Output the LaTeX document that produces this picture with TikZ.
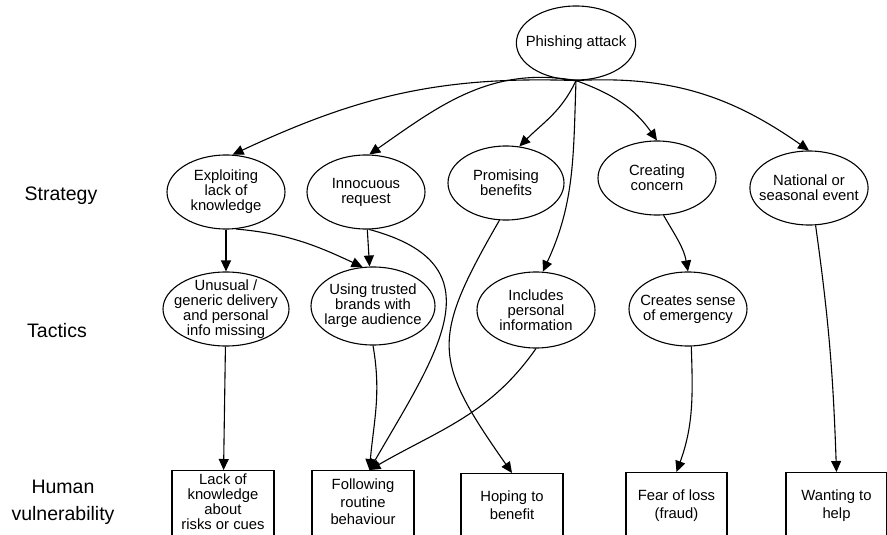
\documentclass[tikz,border=0pt]{standalone}
\usepackage{fontspec}
\setmainfont{Liberation Sans}
\usetikzlibrary{shapes.geometric,arrows.meta}

\begin{document}
\begin{tikzpicture}[x=1pt,y=1pt,
  every node/.style={font=\fontsize{14.8}{15}\selectfont},
  strat/.style={draw,ellipse,line width=1.1pt,inner xsep=-8pt,inner ysep=-6pt,
    minimum width=118pt,minimum height=74pt,align=center},
  vuln/.style={draw,rectangle,line width=1.1pt,anchor=north,text depth=9pt,
    minimum width=102pt,minimum height=72pt,align=center,
    font=\fontsize{14.8}{17.5}\selectfont},
  rowlabel/.style={font=\fontsize{19.5}{27}\selectfont,align=center},
  arr/.style={-{Triangle[length=11pt,width=10pt]},line width=1.1pt}]
\clip[use as bounding box] (0,0) rectangle (887,-535);

\node[rowlabel,anchor=base] (lstrat) at (61,-200) {Strategy};
\node[rowlabel,anchor=base] (ltact) at (57,-337) {Tactics};
\node[rowlabel] (lhum) at (63,-502) {Human\\vulnerability};

\node[strat] (ph) at (576,-43) {Phishing attack};

\node[strat] (ex) at (226,-192) {Exploiting\\lack of\\knowledge};
\node[strat] (inr) at (366,-192) {Innocuous\\request};
\node[strat,minimum width=116pt] (pr) at (506,-183) {Promising\\benefits};
\node[strat] (cc) at (657,-178) {Creating\\concern};
\node[strat] (ne) at (809,-188) {National or\\seasonal event};

\node[strat,minimum width=126pt] (un) at (226,-309) {Unusual /\\generic delivery\\and personal\\info missing};
\node[strat,minimum width=124pt,minimum height=78pt] (ut) at (373,-306) {Using trusted\\brands with\\large audience};
\node[strat,minimum height=76pt] (ip) at (536,-310) {Includes\\personal\\information};
\node[strat] (cs) at (688,-309) {Creates sense\\of emergency};

\node[vuln,font=\fontsize{14.8}{15}\selectfont,text depth=12pt] (lk) at (223,-470) {Lack of\\knowledge\\about\\risks or cues};
\node[vuln] (fr) at (363,-470) {Following\\routine\\behaviour};
\node[vuln] (hb) at (512,-473) {Hoping to\\benefit};
\node[vuln,minimum width=101pt] (fl) at (676.5,-472) {Fear of loss\\(fraud)};
\node[vuln,minimum width=101pt] (wh) at (836.5,-472) {Wanting to\\help};

\draw[arr] (ph.south) to[out=178,in=25] (ex.80);
\draw[arr] (ph.south) to[out=170,in=35] (inr.85);
\draw[arr] (ph.south) to[out=245,in=45] (pr.70);
\draw[arr] (ph.south) to[out=268,in=65] (ip.80);
\draw[arr] (ph.south) to[out=-20,in=125] (cc.north);
\draw[arr] (ph.south) to[out=3,in=145] (ne.north);

\draw[arr] (ex) -- (un);
\draw[arr] (ex.-75) to[out=-5,in=155] (ut.105);
\draw[arr] (inr.-88) -- (ut.95);
\draw[arr] (inr.-85) to[out=-15,in=60,looseness=1.45] (fr.80);
\draw[arr] (pr.-100) to[out=240,in=125,looseness=1.4] (hb.north);
\draw[arr] (cc.-80) to[out=-60,in=100] (cs.north);
\draw[arr] (ne.-80) to[out=-82,in=92] (wh.north);

\draw[arr] (un) -- (lk);
\draw[arr] (ut.south) to[out=-80,in=85] (fr.80);
\draw[arr] (ip.south) to[out=235,in=30] (fr.80);
\draw[arr] (cs.-85) to[out=-88,in=70] (fl.north);
\end{tikzpicture}
\end{document}
